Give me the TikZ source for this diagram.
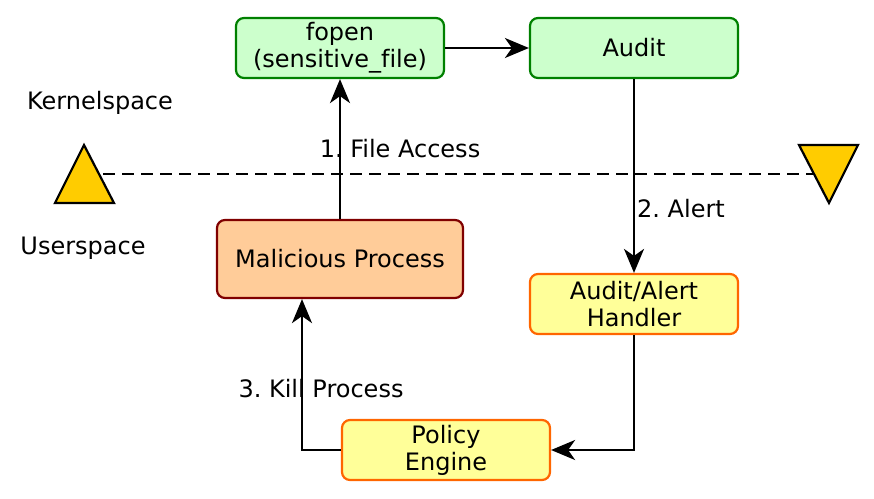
\documentclass[tikz,border=0pt]{standalone}
\usepackage{fontspec}
\setmainfont[Ligatures=NoCommon]{DejaVu Sans}
\usetikzlibrary{arrows.meta}
\definecolor{gfill}{HTML}{CCFFCC}
\definecolor{gdraw}{HTML}{008000}
\definecolor{ofill}{HTML}{FFCC99}
\definecolor{odraw}{HTML}{800000}
\definecolor{yfill}{HTML}{FFFF99}
\definecolor{ydraw}{HTML}{FF6600}
\definecolor{tfill}{HTML}{FFCC00}
\frenchspacing
\begin{document}
\begin{tikzpicture}[x=1pt,y=-1pt,
  every node/.style={font=\fontsize{24}{27}\selectfont, inner sep=0pt},
  box/.style={draw, line width=2.2pt, rounded corners=8pt, align=center, minimum width=208pt, minimum height=60pt},
  gbox/.style={box, fill=gfill, draw=gdraw},
  obox/.style={box, fill=ofill, draw=odraw},
  ybox/.style={box, fill=yfill, draw=ydraw},
  conn/.style={line width=2.2pt, -{Stealth[length=24pt,width=20pt,inset=7pt]}},
  tri/.style={fill=tfill, draw=black, line width=2.2pt, line join=miter}]
\useasboundingbox (0,0) rectangle (874,498);
\node[gbox] (fopen) at (340,48) {fopen\\(sensitive\_file)};
\node[gbox] (audit) at (634,48) {Audit};
\node[obox, minimum width=246pt, minimum height=78pt] (mal) at (340,259) {Malicious Process};
\node[ybox] (handler) at (634,304) {Audit/Alert\\Handler};
\node[ybox] (policy) at (446,450) {Policy\\Engine};
\coordinate (lt) at (84,174);
\coordinate (rt) at (829,174);
\draw[line width=2.2pt, dash pattern=on 12pt off 7pt] (lt) -- (rt);
\draw[tri] (84,145) -- (114,203) -- (55,203) -- cycle;
\draw[tri] (799,145) -- (858,145) -- (829,203) -- cycle;
\node (ks) at (100,103) {Kernelspace};
\node (us) at (83,248) {Userspace};
\draw[conn] (mal) -- (fopen);
\draw[conn] (fopen) -- (audit);
\draw[conn] (audit) -- (handler);
\draw[conn] (handler.south) |- (policy.east);
\draw[conn] (policy.west) -| ([xshift=-38pt]mal.south);
\node (l1) at (400,149) {1. File Access};
\node (l2) at (681,209) {2. Alert};
\node (l3) at (321,389) {3. Kill Process};
\end{tikzpicture}
\end{document}
